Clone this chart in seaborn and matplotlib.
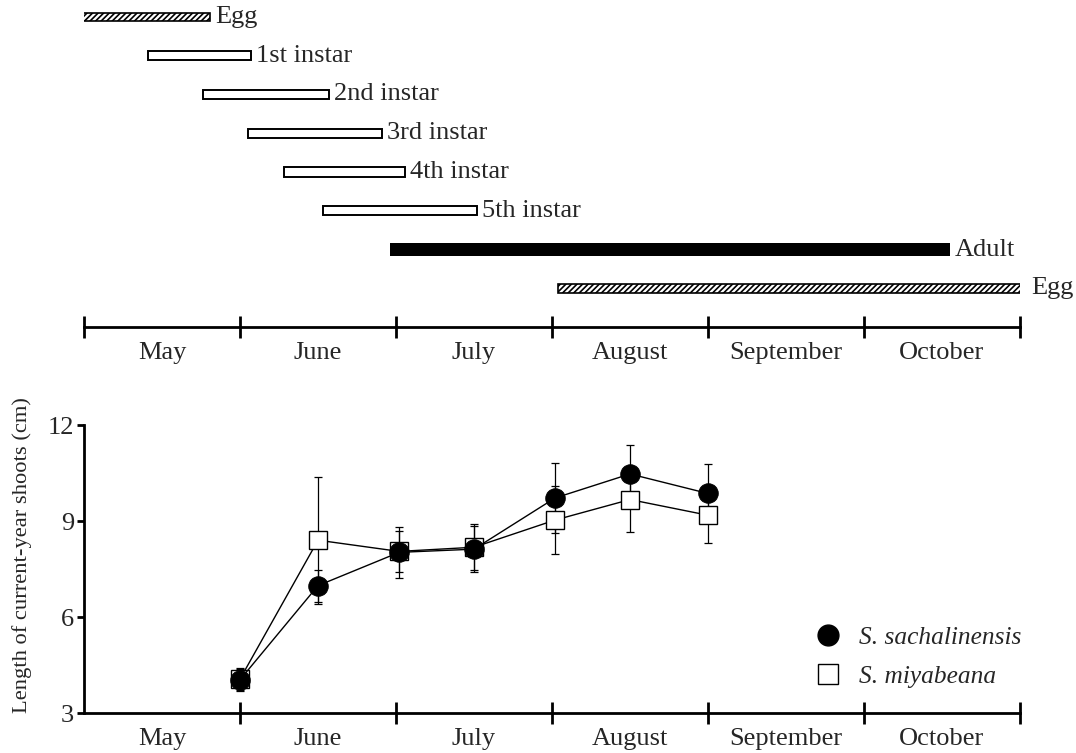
import numpy as np
import pandas as pd
import matplotlib
matplotlib.use("Agg")
import matplotlib.pyplot as plt
from matplotlib.lines import Line2D
import seaborn as sns

# ---------------- data ----------------
months = ["May", "June", "July", "August", "September", "October"]

stage_labels = ["Egg", "1st instar", "2nd instar", "3rd instar",
                "4th instar", "5th instar", "Adult", "Egg"]
stage_start = [-0.02, 0.41, 0.76, 1.05, 1.28, 1.53, 1.96, 3.04]
stage_end = [0.81, 1.07, 1.57, 1.91, 2.06, 2.52, 5.55, 6.04]
stage_kind = ["hatch", "open", "open", "open", "open", "open", "solid", "hatch"]

sample_time = [1.00, 1.50, 2.02, 2.50, 3.02, 3.50, 4.00]
sach_mean = [4.04, 6.98, 8.02, 8.12, 9.72, 10.47, 9.86]
sach_err = [0.35, 0.50, 0.80, 0.72, 1.10, 0.92, 0.91]
miya_mean = [4.06, 8.40, 8.05, 8.18, 9.03, 9.67, 9.18]
miya_err = [0.35, 1.98, 0.65, 0.72, 1.05, 1.00, 0.88]

sns.set_theme(style="white")
plt.rcParams["font.family"] = ["Liberation Serif", "DejaVu Serif"]
plt.rcParams["hatch.linewidth"] = 1.2
plt.rcParams["hatch.color"] = "black"

W, H = 1076, 753
fig = plt.figure(figsize=(W / 100, H / 100), dpi=100)

x0_px, x6_px = 84, 1020
left = x0_px / W
width = (x6_px - x0_px) / W
FS = 19

# ---------------- top timeline ----------------
row_px = 38.75
top_px0 = 17.0
ylim_top = -top_px0 / row_px
ylim_bot = 8.6
ax1_h = (ylim_bot - ylim_top) * row_px
ax1 = fig.add_axes([left, 1 - ax1_h / H, width, ax1_h / H])
ax1.set_xlim(0, 6)
ax1.set_ylim(ylim_bot, ylim_top)

heights = {"hatch": 0.22, "open": 0.24, "solid": 0.32}
for i, (lab, s, e, k) in enumerate(zip(stage_labels, stage_start, stage_end, stage_kind)):
    if k == "hatch":
        ax1.barh(i, e - s, left=s, height=heights[k], facecolor="white",
                 edgecolor="black", linewidth=1.2, hatch="//////")
    elif k == "open":
        ax1.barh(i, e - s, left=s, height=heights[k], facecolor="white",
                 edgecolor="black", linewidth=1.4)
    else:
        ax1.barh(i, e - s, left=s, height=heights[k], facecolor="black",
                 edgecolor="black", linewidth=0)
    ax1.text(e + 0.03, i, lab, va="center", ha="left", fontsize=FS,
             clip_on=False)

for sp in ["top", "left", "right"]:
    ax1.spines[sp].set_visible(False)
ax1.spines["bottom"].set_position(("data", 8))
ax1.spines["bottom"].set_linewidth(2.0)
ax1.spines["bottom"].set_color("black")
ax1.set_yticks([])
ax1.set_xticks(range(7))
ax1.set_xticklabels([])
ax1.set_xticks(np.arange(0.5, 6, 1), minor=True)
ax1.set_xticklabels(months, minor=True, fontsize=FS)
ax1.tick_params(axis="x", which="major", direction="inout", length=16,
                width=2, color="black", bottom=True)
ax1.tick_params(axis="x", which="minor", length=0, pad=11, bottom=True)
ax1.patch.set_alpha(0)

# ---------------- bottom growth chart ----------------
y12_px, y3_px = 425, 713
ax2 = fig.add_axes([left, 1 - y3_px / H, width, (y3_px - y12_px) / H])
ax2.set_xlim(0, 6)
ax2.set_ylim(3, 12)

df = pd.DataFrame({
    "time": sample_time * 2,
    "length": miya_mean + sach_mean,
    "species": ["S. miyabeana"] * len(sample_time) + ["S. sachalinensis"] * len(sample_time),
})

# error bars
ax2.errorbar(sample_time, miya_mean, yerr=miya_err, fmt="none", ecolor="black",
             elinewidth=0.9, capsize=3, capthick=0.9, zorder=2)
ax2.errorbar(sample_time, sach_mean, yerr=sach_err, fmt="none", ecolor="black",
             elinewidth=0.9, capsize=3, capthick=0.9, zorder=2)

sns.lineplot(data=df[df.species == "S. miyabeana"], x="time", y="length",
             color="black", linewidth=1.0, marker="s", markersize=13,
             markerfacecolor="white", markeredgecolor="black",
             markeredgewidth=1.0, ax=ax2, zorder=3)
sns.lineplot(data=df[df.species == "S. sachalinensis"], x="time", y="length",
             color="black", linewidth=1.0, marker="o", markersize=14,
             markerfacecolor="black", markeredgecolor="black", ax=ax2, zorder=4)

ax2.set_xlabel("")
ax2.set_ylabel("Length of current-year shoots (cm)", fontsize=16.2)
ax2.yaxis.set_label_coords(-0.056, 0.55)
for sp in ["top", "right"]:
    ax2.spines[sp].set_visible(False)
for sp in ["left", "bottom"]:
    ax2.spines[sp].set_linewidth(2.0)
    ax2.spines[sp].set_color("black")
ax2.set_yticks([3, 6, 9, 12])
ax2.set_yticklabels(["3", "6", "9", "12"], fontsize=FS)
ax2.tick_params(axis="y", direction="out", length=5, width=2, color="black",
                left=True, pad=2)
ax2.set_xticks(range(1, 7))
ax2.set_xticklabels([])
ax2.set_xticks(np.arange(0.5, 6, 1), minor=True)
ax2.set_xticklabels(months, minor=True, fontsize=FS)
ax2.tick_params(axis="x", which="major", direction="inout", length=16,
                width=2, color="black", bottom=True)
ax2.tick_params(axis="x", which="minor", length=0, pad=11, bottom=True)
ax2.patch.set_alpha(0)
if ax2.get_legend() is not None:
    ax2.get_legend().remove()

handles = [
    Line2D([], [], linestyle="none", marker="o", markersize=15,
           markerfacecolor="black", markeredgecolor="black"),
    Line2D([], [], linestyle="none", marker="s", markersize=15,
           markerfacecolor="white", markeredgecolor="black", markeredgewidth=1.0),
]
leg = ax2.legend(handles, ["S. sachalinensis", "S. miyabeana"],
                 loc="center left", bbox_to_anchor=(0.781, 0.195),
                 frameon=False, handlelength=1.0, handletextpad=0.75,
                 borderpad=0, borderaxespad=0, labelspacing=0.62,
                 prop={"family": "Liberation Serif", "style": "italic", "size": 18.3})

fig.savefig("out.png", dpi=100)
